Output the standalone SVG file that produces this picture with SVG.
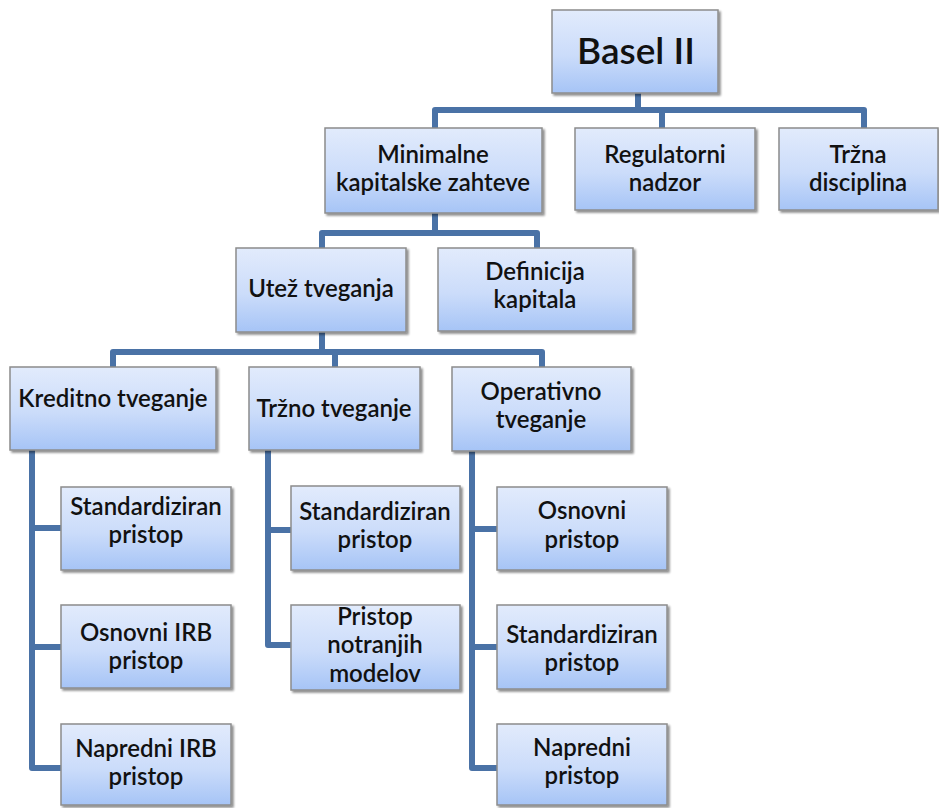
<svg xmlns="http://www.w3.org/2000/svg" width="939" height="808" viewBox="0 0 939 808">
  <defs>
    <linearGradient id="boxFill" x1="0" y1="0" x2="0" y2="1">
      <stop offset="0" stop-color="#e2ebfc"/>
      <stop offset="0.55" stop-color="#cbdcfa"/>
      <stop offset="1" stop-color="#a6c4f6"/>
    </linearGradient>
    <filter id="shadow" x="-10%" y="-10%" width="130%" height="130%">
      <feGaussianBlur in="SourceAlpha" stdDeviation="1.2"/>
      <feOffset dx="2" dy="2" result="b"/>
      <feComponentTransfer><feFuncA type="linear" slope="0.45"/></feComponentTransfer>
      <feMerge><feMergeNode/><feMergeNode in="SourceGraphic"/></feMerge>
    </filter>
  </defs>
  <style>
    .box { fill: url(#boxFill); stroke: #8c8c8c; stroke-width: 1.5; filter: url(#shadow); }
    .lbl { font-family: Lato, "Open Sans", "Liberation Sans", sans-serif; font-weight: 600; font-size: 24px; fill: #111; text-anchor: middle; }
    .big { font-size: 37px; font-weight: 600; }
    .wire { fill: none; stroke: #4a72a6; stroke-width: 6; stroke-linejoin: round; }
  </style>
  <rect width="939" height="808" fill="#ffffff"/>

  <g id="connectors">
    <path class="wire" d="M638 93 V110 M435 128 V110 H864 V128 M662 110 V128"/>
    <path class="wire" d="M435 213 V233 M322 248 V233 H537 V248"/>
    <path class="wire" d="M322 332 V352 M113 367 V352 H542 V367 M335 352 V367"/>
    <path class="wire" d="M32 450 V768 H61 M32 528 H61 M32 647 H61"/>
    <path class="wire" d="M268 450 V645 H291 M268 530 H291"/>
    <path class="wire" d="M472 451 V768 H497 M472 529 H497 M472 647 H497"/>
  </g>

  <g id="basel">
    <rect class="box" x="552" y="10" width="166" height="83"/>
    <text class="lbl big" x="636" y="64">Basel II</text>
  </g>
  <g id="minimalne">
    <rect class="box" x="325" y="128" width="217" height="85"/>
    <text class="lbl" x="433" y="163">Minimalne</text>
    <text class="lbl" x="433" y="191">kapitalske zahteve</text>
  </g>
  <g id="regulatorni">
    <rect class="box" x="575" y="128" width="180" height="82"/>
    <text class="lbl" x="665" y="163">Regulatorni</text>
    <text class="lbl" x="665" y="191">nadzor</text>
  </g>
  <g id="trzna">
    <rect class="box" x="779" y="128" width="159" height="82"/>
    <text class="lbl" x="858" y="163">Tržna</text>
    <text class="lbl" x="858" y="191">disciplina</text>
  </g>
  <g id="utez">
    <rect class="box" x="236" y="248" width="170" height="84"/>
    <text class="lbl" x="321" y="297">Utež tveganja</text>
  </g>
  <g id="definicija">
    <rect class="box" x="438" y="248" width="195" height="83"/>
    <text class="lbl" x="535" y="280">Definicija</text>
    <text class="lbl" x="535" y="308">kapitala</text>
  </g>
  <g id="kreditno">
    <rect class="box" x="10" y="367" width="206" height="83"/>
    <text class="lbl" x="113" y="407">Kreditno tveganje</text>
  </g>
  <g id="trzno">
    <rect class="box" x="249" y="367" width="171" height="83"/>
    <text class="lbl" x="334" y="417">Tržno tveganje</text>
  </g>
  <g id="operativno">
    <rect class="box" x="452" y="367" width="179" height="84"/>
    <text class="lbl" x="541" y="400">Operativno</text>
    <text class="lbl" x="541" y="428">tveganje</text>
  </g>

  <g id="kred-standard">
    <rect class="box" x="61" y="487" width="170" height="83"/>
    <text class="lbl" x="146" y="515">Standardiziran</text>
    <text class="lbl" x="146" y="543">pristop</text>
  </g>
  <g id="kred-osnovni-irb">
    <rect class="box" x="61" y="605" width="170" height="83"/>
    <text class="lbl" x="146" y="641">Osnovni IRB</text>
    <text class="lbl" x="146" y="669">pristop</text>
  </g>
  <g id="kred-napredni-irb">
    <rect class="box" x="61" y="724" width="170" height="81"/>
    <text class="lbl" x="146" y="757">Napredni IRB</text>
    <text class="lbl" x="146" y="785">pristop</text>
  </g>

  <g id="trzno-standard">
    <rect class="box" x="291" y="486" width="169" height="84"/>
    <text class="lbl" x="375" y="520">Standardiziran</text>
    <text class="lbl" x="375" y="548">pristop</text>
  </g>
  <g id="trzno-notranji">
    <rect class="box" x="291" y="605" width="169" height="85"/>
    <text class="lbl" x="375" y="625">Pristop</text>
    <text class="lbl" x="375" y="653">notranjih</text>
    <text class="lbl" x="375" y="682">modelov</text>
  </g>

  <g id="oper-osnovni">
    <rect class="box" x="497" y="487" width="170" height="83"/>
    <text class="lbl" x="582" y="519">Osnovni</text>
    <text class="lbl" x="582" y="548">pristop</text>
  </g>
  <g id="oper-standard">
    <rect class="box" x="497" y="605" width="170" height="84"/>
    <text class="lbl" x="582" y="643">Standardiziran</text>
    <text class="lbl" x="582" y="671">pristop</text>
  </g>
  <g id="oper-napredni">
    <rect class="box" x="497" y="724" width="170" height="81"/>
    <text class="lbl" x="582" y="756">Napredni</text>
    <text class="lbl" x="582" y="784">pristop</text>
  </g>
</svg>
